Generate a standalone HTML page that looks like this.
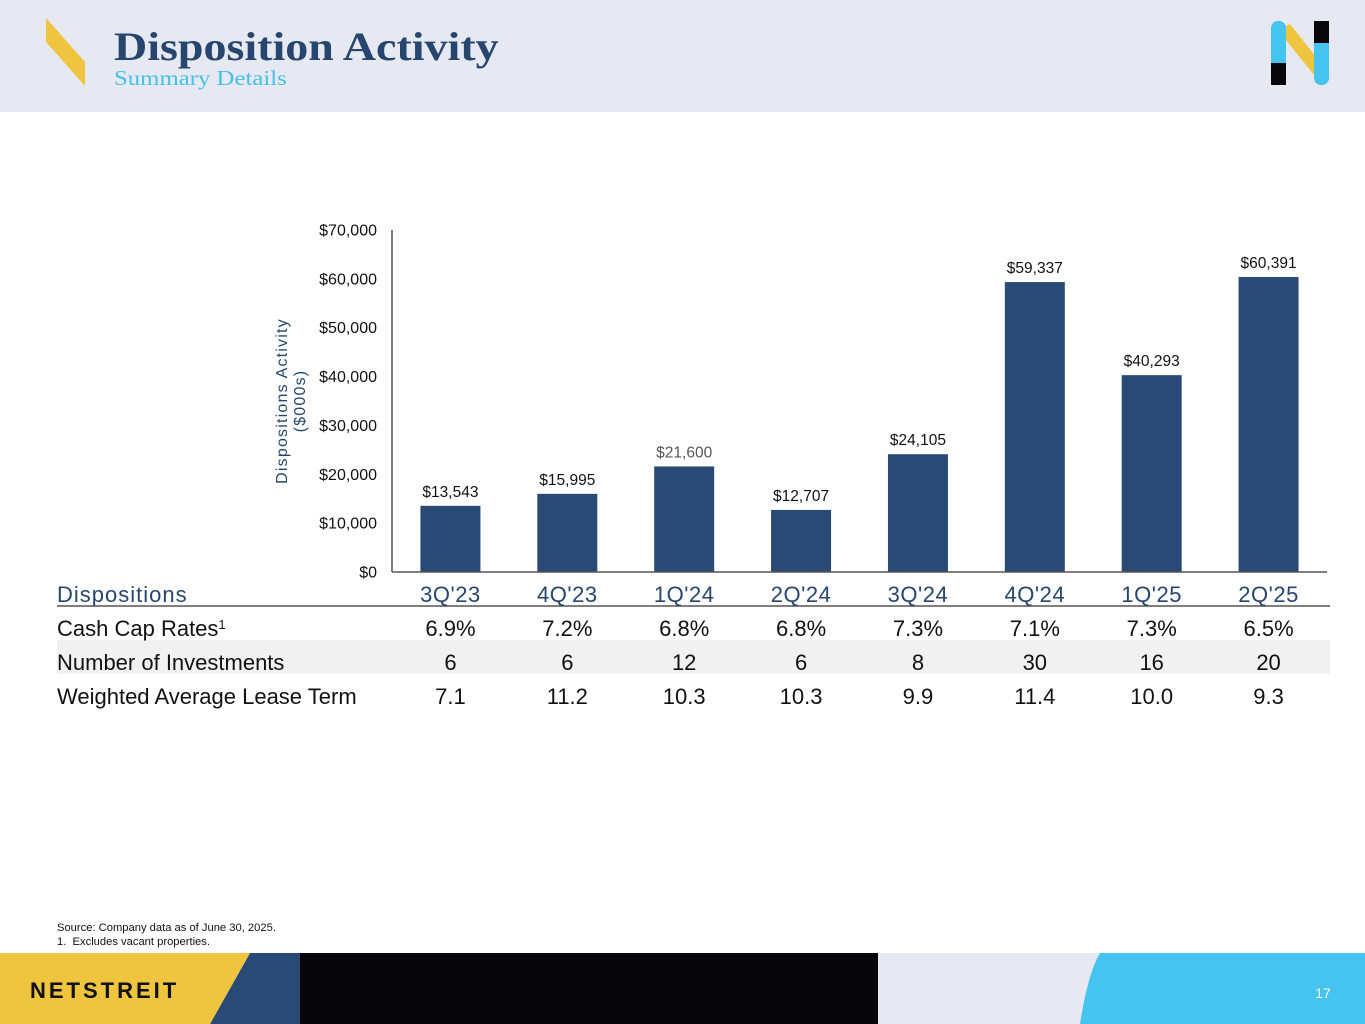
<!DOCTYPE html>
<html><head><meta charset="utf-8">
<style>
body{margin:0;width:1365px;height:1024px;position:relative;overflow:hidden;background:#fff;font-family:"Liberation Sans",sans-serif;}
.hdr{position:absolute;left:0;top:0;width:1365px;height:112px;background:#e6e9f1;}
.title{position:absolute;left:114px;top:23px;font-family:"Liberation Serif",serif;font-weight:bold;font-size:40px;color:#26466f;transform:scaleX(1.15);transform-origin:left top;white-space:nowrap;}
.sub{position:absolute;left:114px;top:66px;font-family:"Liberation Serif",serif;font-size:21px;color:#45c0e8;transform:scaleX(1.18);transform-origin:left top;white-space:nowrap;}
.note{position:absolute;left:57px;font-size:11.2px;color:#111;}
</style></head><body>
<div class="hdr"></div>
<svg style="position:absolute;left:0;top:0" width="1365" height="112">
<polygon points="46,18 85,62 85,86 46,42" fill="#efc43f"/>
<g>
<polygon points="1278,30 1290,24 1328,72 1318,80" fill="#efc43f"/>
<rect x="1271" y="21" width="15" height="50" rx="7" fill="#44c4ee"/>
<rect x="1271" y="63" width="15" height="22" fill="#08080c"/>
<rect x="1314" y="30" width="15" height="55" rx="7" fill="#44c4ee"/>
<rect x="1314" y="21" width="15" height="22" fill="#08080c"/>
</g>
</svg>
<div class="title">Disposition Activity</div>
<div class="sub">Summary Details</div>

<svg id="chart" style="position:absolute;left:0;top:0" width="1365" height="730"></svg>

<div class="note" style="top:922px">Source: Company data as of June 30, 2025.</div>
<div class="note" style="top:936px">1.&nbsp;&nbsp;Excludes vacant properties.</div>

<svg style="position:absolute;left:0;top:953px" width="1365" height="71">
<rect x="0" y="0" width="1365" height="71" fill="#e6e9f1"/>
<rect x="300" y="0" width="578" height="71" fill="#07070b"/>
<polygon points="250,0 300,0 300,71 210,71" fill="#284a75"/>
<polygon points="0,0 250,0 210,71 0,71" fill="#efc43f"/>
<path d="M1100,0 L1365,0 L1365,71 L1080,71 Q1088,20 1100,0 Z" fill="#44c4ee"/>
<text x="30" y="45" font-family="Liberation Sans, sans-serif" font-size="22" font-weight="bold" letter-spacing="3" fill="#111">NETSTREIT</text>
<text x="1323" y="45" text-anchor="middle" font-family="Liberation Sans, sans-serif" font-size="14" fill="#fff">17</text>
</svg>

<script>
const quarters=["3Q'23","4Q'23","1Q'24","2Q'24","3Q'24","4Q'24","1Q'25","2Q'25"];
const values=[13543,15995,21600,12707,24105,59337,40293,60391];
const valueLabels=["$13,543","$15,995","$21,600","$12,707","$24,105","$59,337","$40,293","$60,391"];
const ticks=[0,10000,20000,30000,40000,50000,60000,70000];
const tickLabels=["$0","$10,000","$20,000","$30,000","$40,000","$50,000","$60,000","$70,000"];
const capRates=["6.9%","7.2%","6.8%","6.8%","7.3%","7.1%","7.3%","6.5%"];
const investments=["6","6","12","6","8","30","16","20"];
const leaseTerms=["7.1","11.2","10.3","10.3","9.9","11.4","10.0","9.3"];

const NS="http://www.w3.org/2000/svg";
const svg=document.getElementById('chart');
const X0=392,X1=1327,Y0=572,Y1=230,YMAX=70000;
const band=(X1-X0)/quarters.length;
const xc=i=>X0+band*(i+0.5);
const y=v=>Y0-(v/YMAX)*(Y0-Y1);
function mk(tag,attrs,txt){const e=document.createElementNS(NS,tag);for(const k in attrs)e.setAttribute(k,attrs[k]);if(txt!==undefined)e.textContent=txt;svg.appendChild(e);return e;}

ticks.forEach((t,i)=>{
  const e=mk('text',{x:377,y:y(t)+5.5,'text-anchor':'end','font-size':16,fill:'#111','font-family':'Liberation Sans, sans-serif'},tickLabels[i]);
  
  
});
const yt=mk('text',{transform:'translate(287,401) rotate(-90)','text-anchor':'middle','font-size':16,fill:'#26466f','font-family':'Liberation Sans, sans-serif','letter-spacing':'1.2'});


const t1=document.createElementNS(NS,'tspan');t1.setAttribute('x',0);t1.setAttribute('dy',0);t1.textContent='Dispositions Activity';yt.appendChild(t1);
const t2=document.createElementNS(NS,'tspan');t2.setAttribute('x',0);t2.setAttribute('dy',18);t2.textContent='($000s)';yt.appendChild(t2);

values.forEach((v,i)=>{
  const b=mk('rect',{x:xc(i)-30,y:y(v),width:60,height:Y0-y(v),fill:'#284a75'});
  
  
  const l=mk('text',{x:xc(i),y:y(v)-9,'text-anchor':'middle','font-size':15.5,fill:i===2?'#555':'#111','font-family':'Liberation Sans, sans-serif'},valueLabels[i]);
  
  
});
const ax=mk('line',{x1:X0,y1:Y1,x2:X0,y2:Y0,stroke:'#555','stroke-width':1.5});


const bx=mk('line',{x1:X0,y1:Y0,x2:X1,y2:Y0,stroke:'#555','stroke-width':1.5});



// table
const shade=mk('rect',{x:57,y:640,width:1273,height:34,fill:'#f1f1f1'});


const hl=mk('line',{x1:57,y1:606,x2:1330,y2:606,stroke:'#555','stroke-width':1.5});


const h=mk('text',{x:57,y:602,'font-size':22,fill:'#26466f','font-family':'Liberation Sans, sans-serif','letter-spacing':'1'},'Dispositions');


quarters.forEach((q,i)=>{
  const e=mk('text',{x:xc(i),y:602,'text-anchor':'middle','font-size':22,fill:'#26466f','font-family':'Liberation Sans, sans-serif','letter-spacing':'0.5'},q);
  
  
});
const rows=[["Cash Cap Rates",capRates,636],["Number of Investments",investments,670],["Weighted Average Lease Term",leaseTerms,704]];
rows.forEach((r,ri)=>{
  const lab=mk('text',{x:57,y:r[2],'font-size':22,fill:'#111','font-family':'Liberation Sans, sans-serif'},r[0]);
  
  
  if(ri===0){const s=document.createElementNS(NS,'tspan');s.setAttribute('dy',-7);s.setAttribute('font-size',13);s.textContent='1';lab.appendChild(s);}
  r[1].forEach((v,i)=>{
    const c=mk('text',{x:xc(i),y:r[2],'text-anchor':'middle','font-size':22,fill:'#111','font-family':'Liberation Sans, sans-serif'},v);
    
    
  });
});
</script>
</body></html>
